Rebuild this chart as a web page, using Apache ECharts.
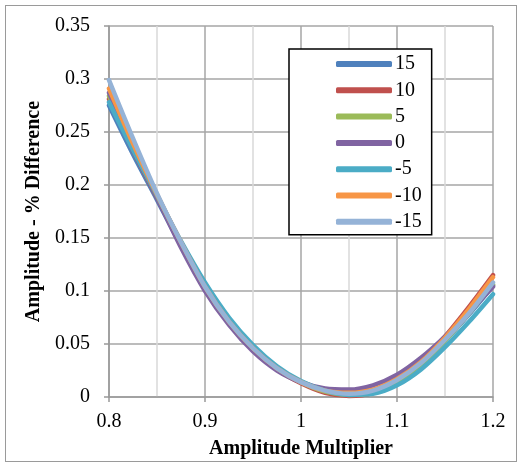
<!DOCTYPE html>
<html><head><meta charset="utf-8">
<script src="https://cdn.jsdelivr.net/npm/echarts@6/dist/echarts.min.js"></script>
<style>html,body{margin:0;padding:0;background:#fff}#c{width:524px;height:468px}
#frame{position:absolute;left:5px;top:5px;width:512px;height:457px;border:1px solid #9a9a9a;box-sizing:border-box;pointer-events:none}</style>
</head><body><div id="c"></div><div id="frame"></div>
<script>
const xValues = [0.8, 0.825, 0.85, 0.875, 0.9, 0.925, 0.95, 0.975, 1.0, 1.025, 1.05, 1.075, 1.1, 1.125, 1.15, 1.175, 1.2];
const seriesNames = ['15', '10', '5', '0', '-5', '-10', '-15'];
const s15  = [0.275,0.229,0.186,0.143,0.103,0.071,0.046,0.027,0.014,0.005,0.002,0.005,0.015,0.031,0.053,0.078,0.105];
const s10  = [0.281,0.233,0.188,0.144,0.102,0.070,0.045,0.026,0.013,0.004,0.001,0.004,0.015,0.033,0.057,0.085,0.115];
const s5   = [0.284,0.235,0.189,0.144,0.103,0.071,0.046,0.027,0.014,0.005,0.002,0.004,0.014,0.031,0.053,0.079,0.106];
const s0   = [0.287,0.236,0.188,0.141,0.100,0.068,0.043,0.025,0.014,0.008,0.007,0.011,0.021,0.037,0.057,0.080,0.104];
const sm5  = [0.278,0.233,0.190,0.147,0.108,0.075,0.049,0.029,0.015,0.006,0.002,0.003,0.011,0.026,0.047,0.071,0.097];
const sm10 = [0.291,0.239,0.191,0.146,0.104,0.071,0.046,0.027,0.014,0.006,0.004,0.007,0.017,0.033,0.056,0.083,0.113];
const sm15 = [0.299,0.244,0.192,0.146,0.104,0.071,0.046,0.027,0.014,0.006,0.003,0.006,0.016,0.032,0.054,0.079,0.108];
const seriesData = [s15, s10, s5, s0, sm5, sm10, sm15];
const colors = ['#4F81BD', '#C0504D', '#9BBB59', '#8064A2', '#4BACC6', '#F79646', '#95B3D7'];

const font = 'Liberation Serif';
const chart = echarts.init(document.getElementById('c'), null, {renderer: 'canvas'});
chart.setOption({
  animation: false,
  color: colors,
  textStyle: {fontFamily: font},
  grid: {left: 109, right: 31, top: 26, bottom: 71},
  legend: {
    orient: 'vertical',
    left: 289, top: 49, width: 183, height: 184,
    padding: [5, 10, 3, 47],
    itemWidth: 56, itemHeight: 6, itemGap: 6.3,
    icon: 'roundRect',
    backgroundColor: '#fff',
    borderColor: '#000', borderWidth: 1.5,
    textStyle: {fontFamily: font, fontSize: 20, color: '#000', padding: [0, 0, 0, -2]},
    data: seriesNames
  },
  xAxis: {
    type: 'value', min: 0.8, max: 1.2, interval: 0.1,
    axisLine: {show: true, lineStyle: {color: '#999', width: 1.5}},
    axisTick: {show: true, length: 5, lineStyle: {color: '#999', width: 1.5}},
    axisLabel: {fontFamily: font, fontSize: 20, color: '#000', margin: 15,
      formatter: v => String(Math.round(v * 10) / 10)},
    splitLine: {show: true, lineStyle: {color: '#a6a6a6', width: 1.5}},
    minorTick: {show: false, splitNumber: 2},
    minorSplitLine: {show: true, lineStyle: {color: '#d9d9d9', width: 1.5}},
    name: 'Amplitude Multiplier', nameLocation: 'middle', nameGap: 42,
    nameTextStyle: {fontFamily: font, fontSize: 20, fontWeight: 'bold', color: '#000'}
  },
  yAxis: {
    type: 'value', min: 0, max: 0.35, interval: 0.05,
    axisLine: {show: true, lineStyle: {color: '#999', width: 1.5}},
    axisTick: {show: true, length: 5, lineStyle: {color: '#999', width: 1.5}},
    axisLabel: {fontFamily: font, fontSize: 20, color: '#000', margin: 19,
      formatter: v => String(Math.round(v * 100) / 100)},
    splitLine: {show: true, lineStyle: {color: '#a6a6a6', width: 1.5}},
    name: 'Amplitude - % Difference', nameLocation: 'middle', nameGap: 62,
    nameTextStyle: {fontFamily: font, fontSize: 20, fontWeight: 'bold', color: '#000'}
  },
  series: seriesNames.map((n, i) => ({
    name: n, type: 'line', smooth: 0.3, showSymbol: false, symbol: 'none',
    lineStyle: {width: 4.5, color: colors[i], cap: 'round'},
    data: xValues.map((x, j) => [x, seriesData[i][j]])
  }))
});
</script></body></html>
